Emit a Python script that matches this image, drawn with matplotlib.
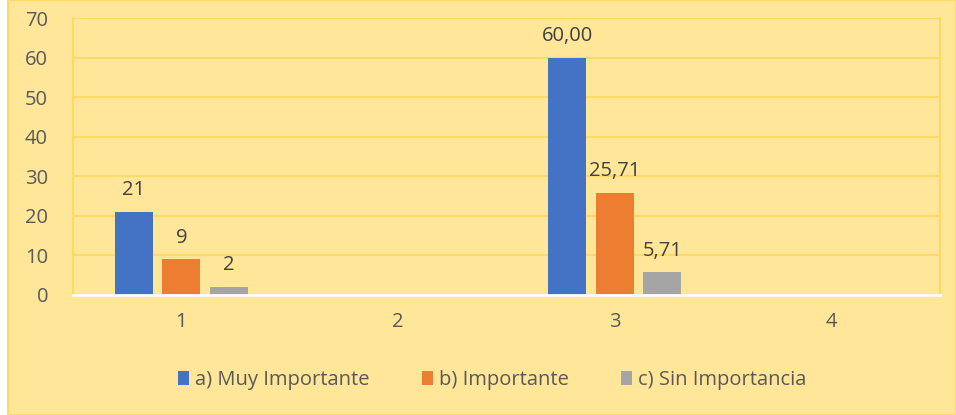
import matplotlib
matplotlib.use("Agg")
import matplotlib.pyplot as plt
import numpy as np
from matplotlib.patches import Rectangle

categories = ["1", "2", "3", "4"]
series_names = ["a) Muy Importante", "b) Importante", "c) Sin Importancia"]
muy_importante = [21, np.nan, 60.00, np.nan]
importante = [9, np.nan, 25.71, np.nan]
sin_importancia = [2, np.nan, 5.71, np.nan]
value_labels = [
    ["21", "", "60,00", ""],
    ["9", "", "25,71", ""],
    ["2", "", "5,71", ""],
]
colors = ["#4472C4", "#ED7D31", "#A5A5A5"]

bg = "#FFE699"
grid_color = "#FFD966"
text_color = "#595959"

plt.rcParams["font.family"] = ["Open Sans", "DejaVu Sans"]

fig = plt.figure(figsize=(9.56, 4.15), dpi=100)
fig.patch.set_facecolor("white")
fig.patches.append(Rectangle((8 / 956, 0), 1 - 8 / 956, 1, transform=fig.transFigure,
                             facecolor=bg, edgecolor=grid_color, linewidth=1.5, zorder=-1))

ax = fig.add_axes([73 / 956, 1 - 295 / 415, (940 - 73) / 956, (295 - 18) / 415])
ax.set_facecolor(bg)

x = np.arange(len(categories))
width = 0.175
step = 0.219
for i, (vals, name) in enumerate(zip([muy_importante, importante, sin_importancia], series_names)):
    pos = x + (i - 1) * step
    ax.bar(pos, vals, width=width, color=colors[i], label=name, zorder=3)
    for p, v, lab in zip(pos, vals, value_labels[i]):
        if lab:
            ax.text(p, v + 3.0, lab, ha="center", va="bottom", fontsize=14.5, color="#404040")

ax.set_xlim(-0.5, 3.5)
ax.set_ylim(0, 70)
ax.set_yticks(range(0, 71, 10))
ax.set_xticks(x)
ax.set_xticklabels(categories)
ax.yaxis.grid(True, color=grid_color, linewidth=1.5, zorder=0)
ax.tick_params(axis="both", length=0, labelsize=14.5, labelcolor=text_color)
ax.tick_params(axis="y", pad=18)
ax.tick_params(axis="x", pad=12)
for side in ["top", "left", "right"]:
    ax.spines[side].set_color(grid_color)
    ax.spines[side].set_linewidth(1.5)
ax.spines["top"].set_visible(False)
ax.spines["bottom"].set_color("white")
ax.spines["bottom"].set_linewidth(2)
ax.spines["bottom"].set_zorder(4)

leg = fig.legend(loc="center", bbox_to_anchor=(492 / 956, 1 - 380 / 415), ncol=3, frameon=False,
                 fontsize=14.5, handlelength=0.55, handleheight=0.7, handletextpad=0.3,
                 columnspacing=2.6)
for t in leg.get_texts():
    t.set_color(text_color)

fig.savefig("out.png", dpi=100, facecolor=fig.get_facecolor())
